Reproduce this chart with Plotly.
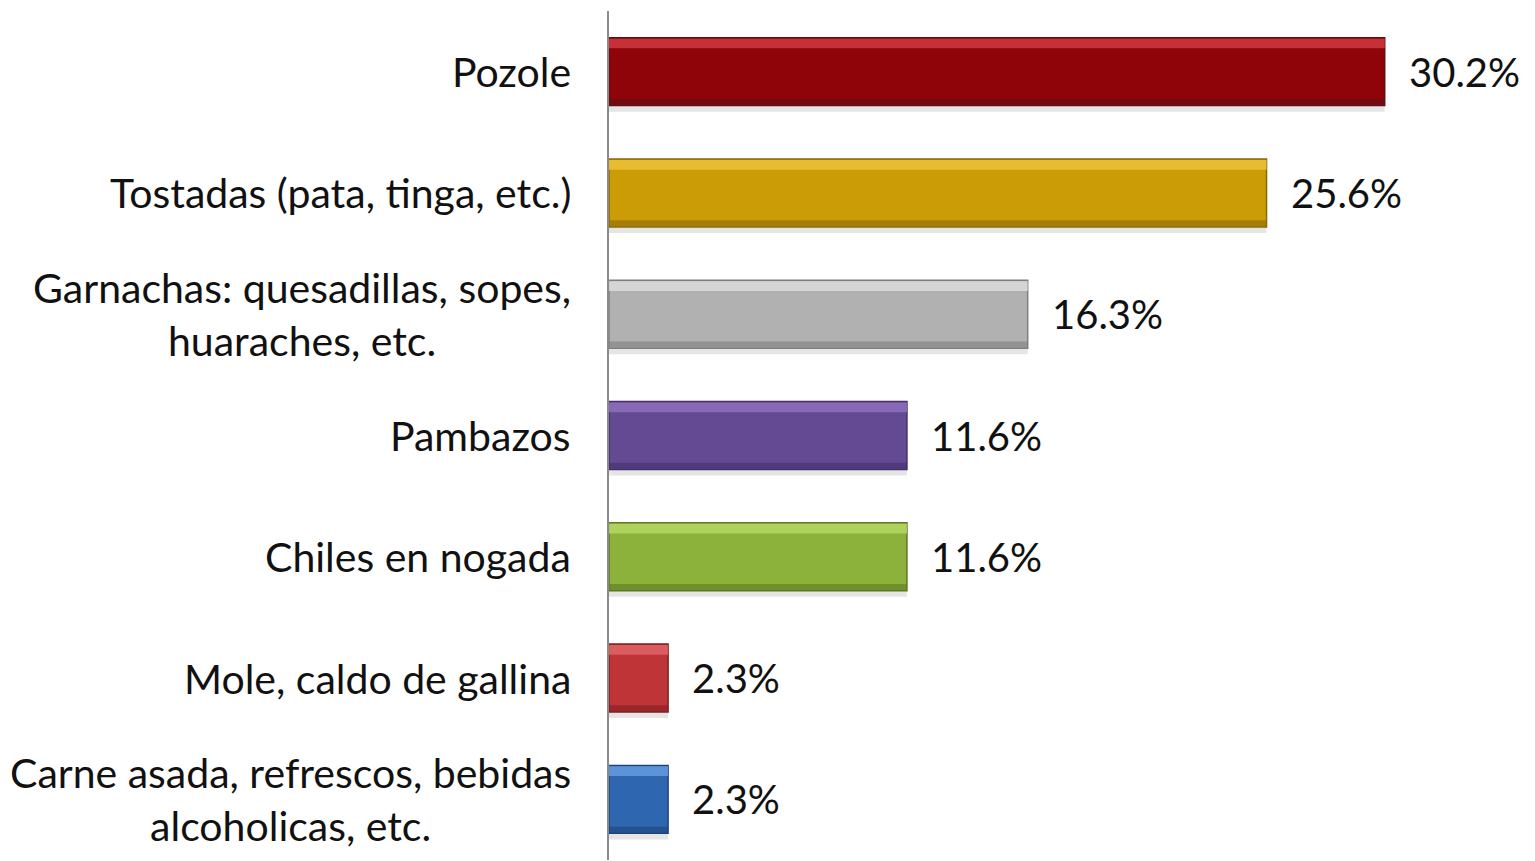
import plotly.graph_objects as go

categories = [
    "Pozole",
    "Tostadas (pata, tinga, etc.)",
    "Garnachas: quesadillas, sopes,<br>huaraches, etc.",
    "Pambazos",
    "Chiles en nogada",
    "Mole, caldo de gallina",
    "Carne asada, refrescos, bebidas<br>alcoholicas, etc.",
]
values = [30.2, 25.6, 16.3, 11.6, 11.6, 2.3, 2.3]
labels = ["30.2%", "25.6%", "16.3%", "11.6%", "11.6%", "2.3%", "2.3%"]
base_colors = ["#8E0409", "#CC9C06", "#B1B1B1", "#634A92", "#8DB23C", "#BE3437", "#2E67B0"]
light_colors = ["#D03A40", "#EBC23A", "#DCDCDC", "#8D6EBE", "#B5D663", "#E06466", "#649BE0"]
dark_colors = ["#5E1016", "#8A6A08", "#7E7E7E", "#43306A", "#5C7A22", "#7E1E22", "#1D447A"]

fig = go.Figure()

# soft shadow
fig.add_trace(go.Bar(
    y=categories, x=values, orientation="h",
    width=0.6, offset=-0.27,
    marker=dict(color="rgba(0,0,0,0.10)", line=dict(width=0)),
    hoverinfo="skip", showlegend=False,
))
# main bar
fig.add_trace(go.Bar(
    y=categories, x=values, orientation="h",
    width=0.56, offset=-0.28,
    marker=dict(color=base_colors, line=dict(color=dark_colors, width=1.5)),
    showlegend=False,
))
# top highlight strip
fig.add_trace(go.Bar(
    y=categories, x=values, orientation="h",
    width=0.08, offset=-0.272,
    marker=dict(color=light_colors, opacity=0.85, line=dict(width=0)),
    hoverinfo="skip", showlegend=False,
))
# bottom shade strip
fig.add_trace(go.Bar(
    y=categories, x=values, orientation="h",
    width=0.05, offset=0.225,
    marker=dict(color=dark_colors, opacity=0.6, line=dict(width=0)),
    hoverinfo="skip", showlegend=False,
))

# value labels
for c, v, t in zip(categories, values, labels):
    fig.add_annotation(
        x=v, y=c, text=t, showarrow=False,
        xanchor="left", yanchor="middle", xshift=22,
        font=dict(family="Lato, sans-serif", size=40, color="#111111"),
    )

# category labels (centered multi-line, right-anchored at axis)
for c in categories:
    fig.add_annotation(
        x=0, xref="paper", y=c, text=c, showarrow=False,
        xanchor="right", yanchor="middle", align="center", xshift=-36,
        font=dict(family="Lato, sans-serif", size=41, color="#111111"),
    )

fig.update_layout(
    width=1527, height=853,
    margin=dict(l=601, r=27, t=3, b=1, autoexpand=False),
    barmode="overlay",
    paper_bgcolor="#FFFFFF",
    plot_bgcolor="rgba(0,0,0,0)",
    font=dict(family="Lato, sans-serif", size=41, color="#111111"),
    xaxis=dict(range=[0, 35], visible=False, fixedrange=True, automargin=False),
    yaxis=dict(
        autorange="reversed", showgrid=False, zeroline=False,
        showline=True, linecolor="#8A8A8A", linewidth=2,
        ticks="", showticklabels=False, automargin=False,
    ),
    bargap=0.44,
)

fig.write_html("out.html")
